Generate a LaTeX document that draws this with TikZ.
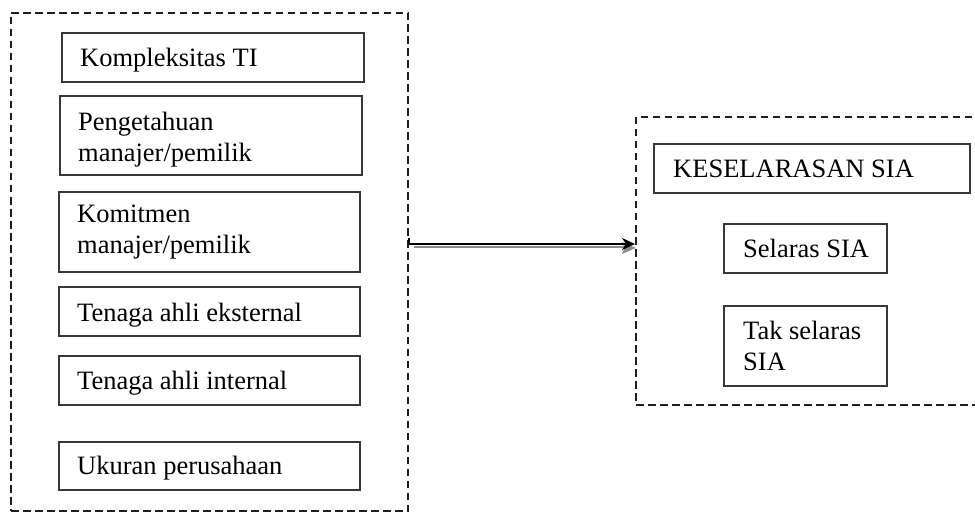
\documentclass[tikz,border=0pt]{standalone}
\usepackage{fontspec}
\setmainfont{Liberation Serif}
\usetikzlibrary{arrows.meta}
\begin{document}
\begin{tikzpicture}[x=1pt,y=-1pt,
  frame/.style={draw=black!88, line width=2.1pt, dash pattern=on 7.5pt off 4.5pt, inner sep=0pt},
  box/.style={draw=black!78, line width=2.1pt, inner sep=0pt},
  lbl/.style={anchor=base west, inner sep=0pt, font=\fontsize{26.5pt}{31pt}\selectfont, align=left},
]
\useasboundingbox (0,0) rectangle (975,513);
\fill[white] (0,0) rectangle (975,513);
% frames
\node[frame, minimum width=397pt, minimum height=498pt] (L) at (209.5,262) {};
\node[frame, minimum width=354pt, minimum height=288pt] (R) at (813,261) {};
% left boxes
\node[box, minimum width=302pt, minimum height=49pt] (b1) at (213,57.5) {};
\node[box, minimum width=302pt, minimum height=79pt] (b2) at (211,135.5) {};
\node[box, minimum width=301pt, minimum height=80pt] (b3) at (209.5,232) {};
\node[box, minimum width=301pt, minimum height=49pt] (b4) at (209.5,311.5) {};
\node[box, minimum width=301pt, minimum height=49pt] (b5) at (209.5,380.5) {};
\node[box, minimum width=301pt, minimum height=48pt] (b6) at (209.5,466) {};
% right boxes
\node[box, minimum width=316pt, minimum height=49pt] (r1) at (812,168.5) {};
\node[box, minimum width=163pt, minimum height=49pt] (r2) at (805.5,248.5) {};
\node[box, minimum width=163pt, minimum height=80pt] (r3) at (805.5,346) {};
% labels (base anchor of a multi-line node = last line's baseline)
\node[lbl] (t1) at (80,67) {Kompleksitas TI};
\node[lbl] (t2) at (78,162) {Pengetahuan\\manajer/pemilik};
\node[lbl] (t3) at (77,254) {Komitmen\\manajer/pemilik};
\node[lbl] (t4) at (77,321) {Tenaga ahli eksternal};
\node[lbl] (t5) at (77,389) {Tenaga ahli internal};
\node[lbl] (t6) at (77,474) {Ukuran perusahaan};
\node[lbl] (s1) at (673,178) {KESELARASAN SIA};
\node[lbl] (s2) at (743,258) {Selaras SIA};
\node[lbl] (s3) at (743,370) {Tak selaras\\SIA};
% arrow with grey shadow
\coordinate (a0) at (L.east |- 0,244);
\coordinate (a1) at (R.west |- 0,244);
\draw[black!45, line width=2pt] ([shift={(5,3.5)}]a0) -- ([shift={(-8,3.5)}]a1);
\fill[black!45] ([shift={(1,4)}]a1) -- ([shift={(-13,-2)}]a1) -- ([shift={(-10,4)}]a1) -- ([shift={(-13,10)}]a1) -- cycle;
\draw[black, line width=2.2pt, -{Stealth[length=13pt,width=12pt]}] (a0) -- (a1);
\draw[black, line width=2pt] (a0) -- ([yshift=6pt]a0);
\end{tikzpicture}
\end{document}
